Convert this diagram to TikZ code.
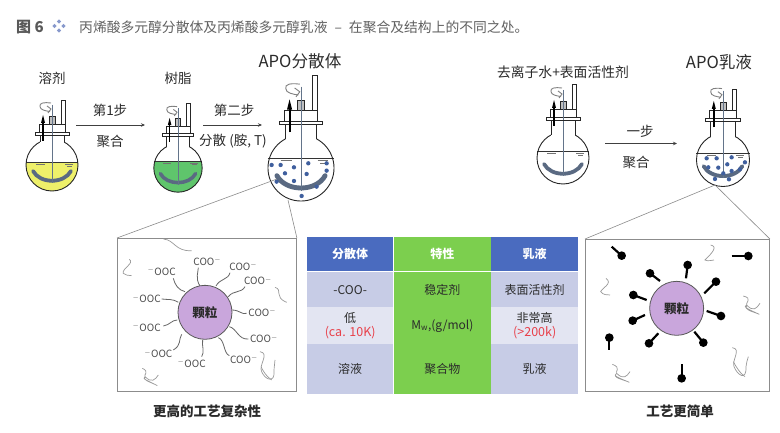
\documentclass[tikz,border=0pt]{standalone}
\usepackage{fontspec}
\setmainfont{Noto Sans CJK SC}
\usetikzlibrary{arrows.meta}
\definecolor{rodc}{HTML}{63748A}
\definecolor{smilec}{HTML}{5A6A82}
\definecolor{dotc}{HTML}{3F5F9E}
\definecolor{yellowl}{HTML}{EEF06A}
\definecolor{greenl}{HTML}{5FC56C}
\definecolor{headblue}{HTML}{4A6BBF}
\definecolor{cellgreen}{HTML}{7CCF4E}
\definecolor{celldark}{HTML}{C7CCE6}
\definecolor{celllight}{HTML}{E3E5F2}
\definecolor{partc}{HTML}{C9A6DC}
\definecolor{txt}{HTML}{2B2B2B}
\definecolor{redt}{HTML}{E8404A}
\definecolor{boxc}{HTML}{8C8C8C}
\definecolor{iconc}{HTML}{8899CC}
\tikzset{
  lab/.style={font=\fontsize{13.5}{15}\selectfont,text=txt,inner sep=0pt},
  biglab/.style={font=\fontsize{16.6}{18}\selectfont,text=txt,inner sep=0pt},
  captext/.style={font=\fontsize{13.5}{15}\selectfont\bfseries,text=txt,inner sep=0pt},
  chem/.style={font=\fontsize{10}{11}\selectfont,text=black!70,inner sep=0pt},
  flowarrow/.style={draw=black!75,line width=0.8pt,-{Stealth[length=4pt,width=3.5pt]}},
  zoomline/.style={draw=boxc,line width=0.6pt},
  panel/.style={draw=boxc,line width=0.9pt,inner sep=0pt,fill=white},
  particle/.style={circle,draw=black!65,line width=0.8pt,fill=partc,minimum size=54pt,inner sep=0pt,font=\fontsize{12.5}{14}\selectfont\bfseries,text=txt},
  cell/.style={inner sep=0pt,align=center,font=\fontsize{12}{14.5}\selectfont,text=txt,anchor=north west},
  headcell/.style={text=white,font=\fontsize{12}{14.5}\selectfont\bfseries},
  redline/.style={text=redt,font=\fontsize{12.5}{14.5}\selectfont},
  chain/.style={draw=black!60,line width=0.8pt},
  stray/.style={draw=black!40,line width=0.7pt},
  tail/.style={draw=black,line width=2.2pt},
  dotm/.style={fill=dotc,draw=none},
}
% #1 cx, #2 cy, #3 scale, #4 liquid colour, #5 liquid level, #6 neck shift, #7 tube extra
\newcommand{\flaskdraw}[7]{%
\begin{scope}[shift={(#1,#2)},x=#3pt,y=-#3pt]
  \fill[white] (0,0) circle[radius=26];
  \begin{scope}
    \clip (0,0) circle[radius=26];
    \fill[#4] (-27,#5) rectangle (27,27);
  \end{scope}
  \draw[black!80,line width=0.5pt] (-26,#5) -- (26,#5);
  \draw[black!55,line width=0.5pt] (-16,#5+2) -- (-7,#5+2) (13,#5+2) -- (21,#5+2) (15,#5+4) -- (20,#5+4);
  \draw[black!85,line width=0.9pt] (0,0) circle[radius=26];
  \fill[white] (-11.6,-26.5) rectangle (11.6,-22);
  \draw[black!85,line width=0.9pt] (-12,-23) -- (-12,-30+#6) (12,-23) -- (12,-30+#6);
  \draw[smilec,line width=#3*3.8pt,line cap=round] (-19,6) .. controls (-12,19) and (12,19) .. (19,6);
  \draw[rodc,line width=0.9pt] (0,-58+#6) -- (0,18);
  \draw[black!85,line width=0.8pt,fill=white] (-17,-33+#6) rectangle (17,-30+#6);
  \draw[black!85,line width=0.8pt] (-13,-33+#6) -- (-13,-41+#6) -- (13,-41+#6) -- (13,-33+#6);
  \draw[black!85,line width=0.7pt,fill=black!25] (-3,-41+#6) rectangle (3,-49+#6);
  \draw[black!85,line width=0.7pt,fill=white] (9,-41+#6) rectangle (13,-65+#6+#7);
  \draw[rodc,line width=0.9pt] (0,-60+#6) -- (0,-30+#6);
  \draw[black,line width=#3*1.5pt] (-9,-24+#6) -- (-9,-44+#6);
  \fill[black] (-11,-42+#6) -- (-9,-50+#6) -- (-7,-42+#6) -- cycle;
  \draw[black!50,line width=0.9pt] (-1,-62+#6) .. controls (-8,-63+#6) and (-13,-62+#6) .. (-12,-58.5+#6) .. controls (-12,-55+#6) and (-6,-54+#6) .. (-2,-53.5+#6);
  \draw[black!50,line width=0.9pt] (-5,-59+#6) -- (-1,-56+#6) -- (-4,-52+#6);
\end{scope}}
\begin{document}
\begin{tikzpicture}[x=1pt,y=-1pt]
\useasboundingbox (0,0) rectangle (780,433);
\fill[white] (0,0) rectangle (780,433);
% title
\node[anchor=west,inner sep=0pt,text=black!65,font=\fontsize{15}{17}\selectfont\bfseries] (figno) at (16,27) {图 6};
\foreach \dx/\dy in {-4.5/0,4.5/0,0/-4.5,0/4.5}
  \fill[iconc] (59+\dx-2.2,26+\dy) -- (59+\dx,26+\dy-2.2) -- (59+\dx+2.2,26+\dy) -- (59+\dx,26+\dy+2.2) -- cycle;
\node[anchor=west,inner sep=0pt,text=black!62,font=\fontsize{13.8}{16}\selectfont] (title) at (79,27) {丙烯酸多元醇分散体及丙烯酸多元醇乳液\hspace{7pt}–\hspace{7pt}在聚合及结构上的不同之处。};
% flasks
\flaskdraw{52}{165}{1}{yellowl}{-3}{0}{0}
\flaskdraw{178}{168}{0.93}{greenl}{-7.5}{-4}{0}
\flaskdraw{301}{168}{1.27}{white}{-8}{-4}{-4}
\flaskdraw{563}{158}{1}{white}{-7}{-8}{-1}
\flaskdraw{723}{160}{1.02}{white}{-7}{-8}{4}
% dots APO dispersion
\begin{scope}[shift={(0,0)},x=0.3333pt,y=-0.3333pt]
\foreach \px/\py in {815/495,842/495,882/502,925/490,980/490,980/512,855/520,920/522,882/543,830/545,905/588,950/560}
  \fill[dotm] (\px,\py) circle[radius=6.5];
\end{scope}
\begin{scope}[shift={(390,40)},x=0.3333pt,y=-0.3333pt]
\foreach \px/\py in {950/355,980/355,1025/352,985/383,1012/373,1065/367,1050/388,1025/393,955/382,975/417,1017/418,1000/400}
  \fill[dotm] (\px,\py) circle[radius=6.5];
\end{scope}
% top labels
\node[lab] (l1) at (52,78) {溶剂};
\node[lab] (l2) at (178,78) {树脂};
\node[biglab] (l3) at (300,61) {APO分散体};
\node[lab,font=\fontsize{13.8}{15}\selectfont] (l4) at (563,72) {去离子水+表面活性剂};
\node[biglab] (l5) at (719,62) {APO乳液};
\node[lab] (s1) at (110,110) {第1步};
\node[lab] (s2) at (110,141) {聚合};
\node[lab] (s3) at (234,110) {第二步};
\node[lab] (s4) at (233,141) {分散 (胺, T)};
\node[lab] (s5) at (640,131) {一步};
\node[lab] (s6) at (636,162) {聚合};
\coordinate (a1) at (76,125); \coordinate (a2) at (145,125);
\coordinate (a3) at (203,125); \coordinate (a4) at (262,125);
\coordinate (a5) at (605,143.5); \coordinate (a6) at (677,143.5);
\draw[flowarrow] (a1) -- (a2);
\draw[flowarrow] (a3) -- (a4);
\draw[flowarrow] (a5) -- (a6);
% panels
\node[panel,minimum width=179pt,minimum height=153pt,anchor=north west] (box1) at (117,238) {};
\node[panel,minimum width=184pt,minimum height=152pt,anchor=north west] (box2) at (585,239) {};
\coordinate (z1) at (277,179); \coordinate (z2) at (288,200);
\coordinate (z3) at (715,185);
\draw[zoomline] (z1) -- (box1.north west);
\draw[zoomline] (z2) -- (box1.north east);
\draw[zoomline] (z3) -- (box2.north west);
\draw[zoomline] (z3) -- (box2.north east);
% left panel
\begin{scope}[shift={(100,225)},x=0.3333pt,y=-0.3333pt]
\draw[chain] (300,183) .. controls (285,160) and (295,140) .. (295,128);
\draw[chain] (348,183) .. controls (360,160) and (385,165) .. (390,143);
\draw[chain] (385,215) .. controls (400,195) and (425,205) .. (435,185);
\draw[chain] (395,255) .. controls (420,255) and (425,270) .. (440,265);
\draw[chain] (388,305) .. controls (410,310) and (415,345) .. (445,342);
\draw[chain] (355,338) .. controls (375,345) and (370,385) .. (388,392);
\draw[chain] (308,345) .. controls (305,365) and (315,380) .. (305,395);
\draw[chain] (245,328) .. controls (235,345) and (245,360) .. (220,375);
\draw[chain] (232,285) .. controls (215,285) and (210,300) .. (190,303);
\draw[chain] (235,232) .. controls (215,220) and (205,225) .. (185,222);
\draw[chain] (255,200) .. controls (235,195) and (225,180) .. (220,160);
\draw[stray] (190,42) .. controls (225,45) and (225,80) .. (275,77);
\draw[stray] (88,103) .. controls (105,115) and (65,130) .. (70,145) .. controls (75,152) and (85,150) .. (95,152);
\draw[stray] (525,187) .. controls (550,195) and (520,215) .. (560,232);
\draw[stray] (480,380) .. controls (510,385) and (475,420) .. (485,440) .. controls (495,465) and (525,475) .. (522,440) .. controls (522,425) and (525,415) .. (525,405);
\draw[stray] (483,425) .. controls (490,440) and (500,455) .. (515,465);
\draw[stray] (127,430) .. controls (150,440) and (130,450) .. (135,455) .. controls (125,462) and (140,465) .. (172,482) .. controls (150,470) and (125,465) .. (135,455) .. controls (155,475) and (165,465) .. (175,450);
\node[particle] (p1) at (315,262) {颗粒};
\node[chem] (c1) at (322,110) {COO$^{-}$};
\node[chem] (c2) at (430,125) {COO$^{-}$};
\node[chem] (c3) at (474,168) {COO$^{-}$};
\node[chem] (c4) at (487,262) {COO$^{-}$};
\node[chem] (c5) at (492,342) {COO$^{-}$};
\node[chem] (c6) at (432,403) {COO$^{-}$};
\node[chem] (c7) at (185,140) {$^{-}$OOC};
\node[chem] (c8) at (140,222) {$^{-}$OOC};
\node[chem] (c9) at (140,308) {$^{-}$OOC};
\node[chem] (c10) at (175,387) {$^{-}$OOC};
\node[chem] (c11) at (275,415) {$^{-}$OOC};
\end{scope}
% right panel
\begin{scope}[shift={(580,225)},x=0.3333pt,y=-0.3333pt]
\foreach \ax/\ay/\hx/\hy in {95/65/125/92,318/160/323/120,240/168/210/145,373/205/408/170,200/225/160/210,195/270/158/287,380/258/423/273,235/325/207/355,343/320/370/353,455/93/505/93,88/375/88/338,305/418/305/460}{
  \draw[tail] (\ax,\ay) -- (\hx,\hy);
  \fill[black] (\hx,\hy) circle[radius=13];
}
\draw[stray] (392,60) .. controls (415,65) and (395,85) .. (375,105) .. controls (385,110) and (395,105) .. (402,105);
\draw[stray] (78,160) .. controls (100,175) and (65,190) .. (62,200) .. controls (70,210) and (80,210) .. (90,210);
\draw[stray] (490,213) .. controls (520,220) and (495,235) .. (500,240) .. controls (485,245) and (510,255) .. (538,268) .. controls (515,258) and (490,255) .. (500,240) .. controls (520,262) and (530,250) .. (540,235);
\draw[stray] (97,418) .. controls (125,428) and (105,440) .. (110,445) .. controls (95,452) and (120,460) .. (148,472) .. controls (125,462) and (95,458) .. (110,445) .. controls (130,465) and (140,455) .. (150,440);
\draw[stray] (457,368) .. controls (485,372) and (455,405) .. (462,425) .. controls (472,450) and (500,470) .. (498,425) .. controls (498,415) and (503,405) .. (505,395);
\draw[stray] (460,410) .. controls (468,425) and (480,445) .. (495,455);
\node[particle] (p2) at (290,250) {颗粒};
\end{scope}
\node[captext] (cap1) at (207,411) {更高的工艺复杂性};
\node[captext] (cap2) at (680,411) {工艺更简单};
% table
\node[cell,headcell,fill=headblue,minimum width=86pt,minimum height=34pt] (t11) at (307,237) {分散体};
\node[cell,headcell,fill=cellgreen,minimum width=97pt,minimum height=34pt] (t12) at (393.7,237) {特性};
\node[cell,headcell,fill=headblue,minimum width=87pt,minimum height=34pt] (t13) at (491,237) {乳液};
\node[cell,fill=celldark,minimum width=86pt,minimum height=35pt] (t21) at (307,272) {-COO-};
\node[cell,fill=cellgreen,minimum width=97pt,minimum height=35pt] (t22) at (393.7,272) {稳定剂};
\node[cell,fill=celldark,minimum width=87pt,minimum height=35pt] (t23) at (491,272) {表面活性剂};
\node[cell,fill=celllight,minimum width=86pt,minimum height=37pt] (t31) at (307,307) {低\\{\fontsize{12.5}{14.5}\selectfont\textcolor{redt}{(ca. 10K)}}};
\node[cell,fill=cellgreen,minimum width=97pt,minimum height=37pt] (t32) at (393.7,307) {M$_{\mathrm{w}}$,(g/mol)};
\node[cell,fill=celllight,minimum width=87pt,minimum height=37pt] (t33) at (491,307) {非常高\\{\fontsize{12.5}{14.5}\selectfont\textcolor{redt}{(>200k)}}};
\node[cell,fill=celldark,minimum width=86pt,minimum height=50pt] (t41) at (307,344) {溶液};
\node[cell,fill=cellgreen,minimum width=97pt,minimum height=50pt] (t42) at (393.7,344) {聚合物};
\node[cell,fill=celldark,minimum width=87pt,minimum height=50pt] (t43) at (491,344) {乳液};
\end{tikzpicture}
\end{document}
